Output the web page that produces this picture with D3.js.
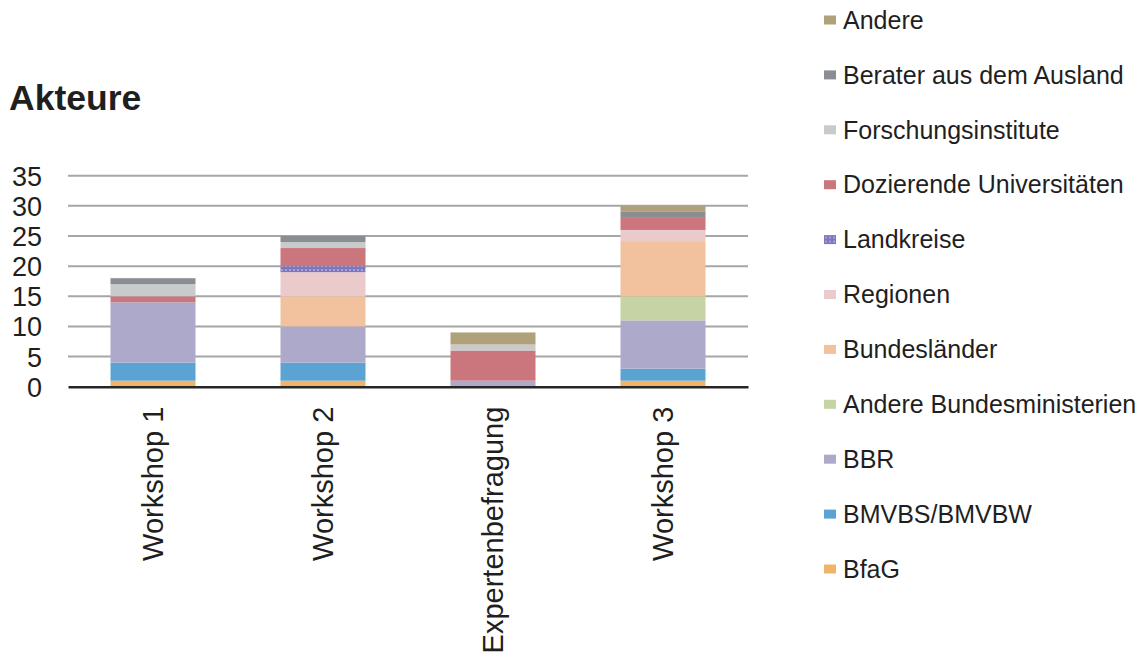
<!DOCTYPE html>
<html>
<head>
<meta charset="utf-8">
<script src="https://cdn.jsdelivr.net/npm/d3@7"></script>
<style>
  body { margin: 0; background: #fff; }
  svg { font-family: "Liberation Sans", Arial, sans-serif; }
</style>
</head>
<body>
<svg width="1139" height="658"></svg>
<script>
// Data
const categories = ['Workshop 1', 'Workshop 2', 'Expertenbefragung', 'Workshop 3']
const seriesNames = ['BfaG', 'BMVBS/BMVBW', 'BBR', 'Andere Bundesministerien', 'Bundesländer',
                     'Regionen', 'Landkreise', 'Dozierende Universitäten', 'Forschungsinstitute',
                     'Berater aus dem Ausland', 'Andere']
const bfag        = [1, 1, 0, 1]
const bmvbs       = [3, 3, 0, 2]
const bbr         = [10, 6, 1, 8]
const andereBM    = [0, 0, 0, 4]
const bundeslaender = [0, 5, 0, 9]
const regionen    = [0, 4, 0, 2]
const landkreise  = [0, 1, 0, 0]
const dozierende  = [1, 3, 5, 2]
const forschung   = [2, 1, 1, 0]
const berater     = [1, 1, 0, 1]
const andere      = [0, 0, 2, 1]
const yTicks = [0, 5, 10, 15, 20, 25, 30, 35]

const seriesValues = [bfag, bmvbs, bbr, andereBM, bundeslaender, regionen, landkreise,
                      dozierende, forschung, berater, andere]
const colors = ['#F0B467', '#5BA3D3', '#ADA9CA', '#C5D3A5', '#F2C19D', '#EBCACB',
                'url(#dots)', '#CB767D', '#C8CBCC', '#8A8D92', '#AFA27A']

const plotLeft = 68, plotRight = 748, plotTop = 175.7, plotBottom = 386.7

const svg = d3.select('svg')

// pattern for Landkreise
let pat = svg.append('defs').append('pattern')
    .attr('id', 'dots')
    .attr('width', 4).attr('height', 4)
    .attr('patternUnits', 'userSpaceOnUse')
pat.append('rect').attr('width', 4).attr('height', 4).attr('fill', '#7C77C0')
pat.append('circle').attr('cx', 2).attr('cy', 2).attr('r', 0.8).attr('fill', '#D8D6EE')

let table = categories.map((c, i) => {
    let row = { cat: c }
    seriesNames.forEach((s, j) => row[s] = seriesValues[j][i])
    return row
})
let stacked = d3.stack().keys(seriesNames)(table)

let xScale = d3.scaleBand().domain(categories).range([plotLeft, plotRight]).paddingInner(0.5).paddingOuter(0.25)
let yScale = d3.scaleLinear().domain([0, 35]).range([plotBottom, plotTop])

// title
svg.append('text')
    .attr('x', 9).attr('y', 110)
    .attr('font-size', 35.5).attr('font-weight', 'bold')
    .attr('fill', '#1f1f1f')
    .text('Akteure')

// gridlines
svg.append('g')
    .selectAll('line')
    .data(yTicks.filter(d => d > 0))
    .enter()
    .append('line')
    .attr('x1', plotLeft).attr('x2', plotRight)
    .attr('y1', d => yScale(d)).attr('y2', d => yScale(d))
    .attr('stroke', '#A6A6A6')
    .attr('stroke-width', 2)

// y axis labels
let yAxis = d3.axisLeft(yScale).tickValues(yTicks).tickSize(0).tickPadding(0)
let yg = svg.append('g')
    .attr('transform', 'translate(42, 0)')
    .call(yAxis)
yg.select('.domain').remove()
yg.selectAll('text')
    .attr('font-size', 27)
    .attr('fill', '#1f1f1f')
    .attr('font-family', '"Liberation Sans", Arial, sans-serif')
    .attr('dy', '0.35em')

// bars
svg.append('g')
    .selectAll('g')
    .data(stacked)
    .enter()
    .append('g')
    .attr('fill', (d, i) => colors[i])
    .selectAll('rect')
    .data(d => d)
    .enter()
    .append('rect')
    .attr('x', d => xScale(d.data.cat))
    .attr('y', d => yScale(d[1]))
    .attr('width', xScale.bandwidth())
    .attr('height', d => yScale(d[0]) - yScale(d[1]))

// x axis
let xAxis = d3.axisBottom(xScale).tickSize(0).tickPadding(0)
let xg = svg.append('g')
    .attr('transform', 'translate(0, ' + plotBottom + ')')
    .call(xAxis)
xg.select('.domain').attr('stroke', '#262626').attr('stroke-width', 2.5)
xg.selectAll('text')
    .attr('font-size', 29)
    .attr('fill', '#1f1f1f')
    .attr('font-family', '"Liberation Sans", Arial, sans-serif')
    .attr('transform', 'rotate(-90)')
    .attr('text-anchor', 'end')
    .attr('x', -20)
    .attr('y', 0)
    .attr('dy', '0.35em')

// legend
let legendOrder = seriesNames.map((s, i) => i).reverse()
let legend = svg.append('g')
    .selectAll('g')
    .data(legendOrder)
    .enter()
    .append('g')
    .attr('transform', (d, i) => 'translate(824, ' + (20 + i * 54.9) + ')')
legend.append('rect')
    .attr('x', 0).attr('y', -4.5)
    .attr('width', 12).attr('height', 9)
    .attr('fill', d => colors[d])
legend.append('text')
    .attr('x', 19).attr('y', 0)
    .attr('dy', '0.35em')
    .attr('font-size', 25)
    .attr('fill', '#1f1f1f')
    .text(d => seriesNames[d])
</script>
</body>
</html>
